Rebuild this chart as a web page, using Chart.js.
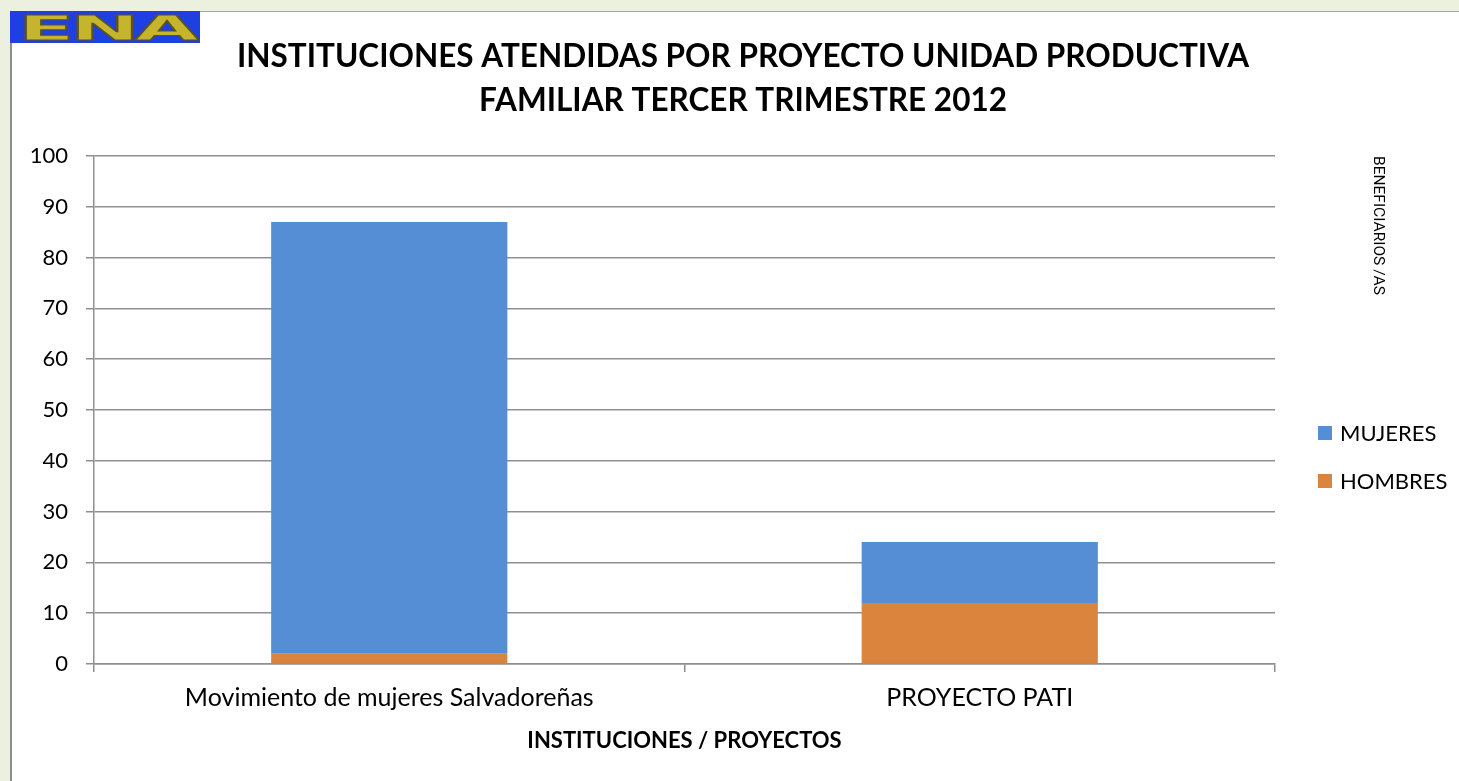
<!DOCTYPE html>
<html>
<head>
<meta charset="utf-8">
<script src="https://cdn.jsdelivr.net/npm/chart.js@4/dist/chart.umd.min.js"></script>
<style>
    html, body { margin: 0; padding: 0; }
    body { width: 1459px; height: 781px; background: #ebf1de; position: relative; overflow: hidden; }
    #panel { position: absolute; left: 10px; top: 11px; width: 1449px; height: 770px; background: #fff;
             border-left: 2px solid #8c8c8c; border-top: 1px solid #a6a6a6; box-sizing: border-box; }
    #logo { position: absolute; left: 10px; top: 11px; width: 190px; height: 32px; background: #1e3fe2;
            overflow: hidden; }
    #logo span { position: absolute; left: 8px; top: -3px; font: bold 34px "DejaVu Sans"; color: #c4b52c;
                 transform: scaleX(2.45); transform-origin: left top; letter-spacing: -2px;
                 -webkit-text-stroke: 1px #5a5220; }
    #wrap { position: absolute; left: 0; top: 0; width: 1459px; height: 781px; }
</style>
</head>
<body>
<div id="panel"></div>
<div id="logo"><span>ENA</span></div>
<div id="wrap"><canvas id="chart" width="1459" height="781"></canvas></div>
<script>
document.addEventListener("DOMContentLoaded", () => {
    const ctx = document.getElementById('chart')?.getContext('2d');
    if (!ctx) {
        console.error('Chart element not found');
        return;
    }

    const categories = ['Movimiento de mujeres Salvadoreñas', 'PROYECTO PATI'];
    const hombres = [2, 12];
    const mujeres = [85, 12];
    const yTicks = [0, 10, 20, 30, 40, 50, 60, 70, 80, 90, 100];

    const gridColor = '#8f8f8f';
    const baseFont = 'Lato';

    // legend drawn at the right, Mujeres first like the original
    const sideLegend = {
        id: 'sideLegend',
        afterDraw(chart) {
            const c = chart.ctx;
            const items = chart.data.datasets.slice().reverse();
            c.save();
            c.font = '22px ' + baseFont;
            c.textBaseline = 'middle';
            items.forEach((ds, i) => {
                const y = 433 + i * 48;
                c.fillStyle = ds.backgroundColor;
                c.fillRect(1318, y - 7, 14, 14);
                c.fillStyle = '#000';
                c.fillText(ds.label, 1340, y + 1);
            });
            c.restore();
        }
    };

    new Chart(ctx, {
        type: 'bar',
        data: {
            labels: categories,
            datasets: [
                {
                    label: 'HOMBRES',
                    data: hombres,
                    backgroundColor: '#db843d',
                    borderWidth: 0,
                    barPercentage: 0.5,
                    categoryPercentage: 0.8,
                },
                {
                    label: 'MUJERES',
                    data: mujeres,
                    backgroundColor: '#558ed5',
                    borderWidth: 0,
                    barPercentage: 0.5,
                    categoryPercentage: 0.8,
                }
            ]
        },
        options: {
            responsive: false,
            animation: false,
            layout: { padding: { left: 27, right: 0, top: 0, bottom: 0 } },
            plugins: {
                legend: { display: false },
                tooltip: { enabled: false },
                title: {
                    display: true,
                    text: ['INSTITUCIONES ATENDIDAS POR PROYECTO UNIDAD PRODUCTIVA', 'FAMILIAR TERCER TRIMESTRE 2012'],
                    color: '#000',
                    font: { family: baseFont, size: 31.5, weight: 'bold', lineHeight: 44 / 31.5 },
                    padding: { top: 35, bottom: 33 }
                }
            },
            scales: {
                x: {
                    stacked: true,
                    grid: { drawOnChartArea: false, drawTicks: true, tickLength: 8, color: gridColor, lineWidth: 1.5 },
                    border: { display: true, color: gridColor, width: 1.5 },
                    ticks: { color: '#000', font: { family: baseFont, size: 25 }, padding: 11, maxRotation: 0 },
                    title: {
                        display: true,
                        text: 'INSTITUCIONES / PROYECTOS',
                        color: '#000',
                        font: { family: baseFont, size: 22, weight: 'bold' },
                        padding: { top: 0, bottom: 27 }
                    },
                    afterFit(scale) { scale.height = 781 - 664; }
                },
                y: {
                    stacked: true,
                    min: 0,
                    max: 100,
                    afterBuildTicks(scale) { scale.ticks = yTicks.map(v => ({ value: v })); },
                    grid: { color: gridColor, lineWidth: 1.5, tickLength: 8 },
                    border: { display: true, color: gridColor, width: 1.5 },
                    ticks: { color: '#000', font: { family: baseFont, size: 22 }, padding: 18 },
                    afterFit(scale) { scale.width = 94 - 27; }
                },
                y2: {
                    type: 'linear',
                    position: 'right',
                    grid: { display: false },
                    border: { display: false },
                    ticks: { display: false },
                    title: {
                        display: true,
                        text: 'BENEFICIARIOS /AS',
                        align: 'end',
                        color: '#000',
                        font: { family: 'Roboto', size: 15.5 },
                        padding: { top: 72, bottom: 0 }
                    },
                    afterFit(scale) { scale.width = 1459 - 1275; }
                }
            }
        },
        plugins: [sideLegend]
    });
});
</script>
</body>
</html>
